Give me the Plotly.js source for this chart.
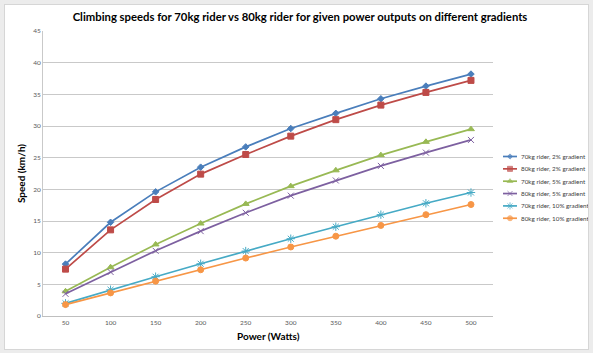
<!DOCTYPE html>
<html>
<head>
<meta charset="utf-8">
<script src="https://cdn.plot.ly/plotly-3.0.1.min.js"></script>
<style>
  html, body { margin: 0; padding: 0; background: #ececec; width: 593px; height: 353px; overflow: hidden; }
  #chart { position: absolute; left: 5px; top: 5px; width: 583px; height: 344px; background: #ffffff; outline: 1px solid #d6d6d6; }
</style>
</head>
<body>
<div id="chart"></div>
<script>
// ---- data ----
var power = [50, 100, 150, 200, 250, 300, 350, 400, 450, 500];
var rider70_2 = [8.2, 14.8, 19.6, 23.5, 26.7, 29.6, 32.0, 34.3, 36.3, 38.2];
var rider80_2 = [7.4, 13.6, 18.4, 22.4, 25.5, 28.4, 31.0, 33.3, 35.3, 37.2];
var rider70_5 = [3.9, 7.7, 11.3, 14.6, 17.7, 20.5, 23.0, 25.4, 27.5, 29.5];
var rider80_5 = [3.5, 6.95, 10.3, 13.4, 16.3, 19.0, 21.4, 23.7, 25.8, 27.8];
var rider70_10 = [2.0, 4.15, 6.2, 8.25, 10.25, 12.2, 14.1, 16.0, 17.8, 19.5];
var rider80_10 = [1.8, 3.65, 5.5, 7.3, 9.15, 10.9, 12.6, 14.3, 16.0, 17.6];
var seriesNames = ["70kg rider, 2% gradient", "80kg rider, 2% gradient", "70kg rider, 5% gradient",
                   "80kg rider, 5% gradient", "70kg rider, 10% gradient", "80kg rider, 10% gradient"];
var yTicks = [0, 5, 10, 15, 20, 25, 30, 35, 40, 45];

// ---- styles ----
var seriesData = [rider70_2, rider80_2, rider70_5, rider80_5, rider70_10, rider80_10];
var colors = ["#4a7ebb", "#be4b48", "#98b954", "#7d60a0", "#46aac5", "#f79646"];
var symbols = ["diamond", "square", "triangle-up", "x-thin-open", "asterisk-open", "circle"];
var sizes = [5, 6, 6, 6, 7, 6];

var traces = [];
for (var i = 0; i < seriesData.length; i++) {
  traces.push({
    x: power, y: seriesData[i], name: seriesNames[i], type: "scatter", mode: "lines+markers",
    line: { color: colors[i], width: 1.7 },
    marker: { symbol: symbols[i], size: sizes[i], color: colors[i], line: { color: colors[i], width: 1 } },
    showlegend: false, cliponaxis: false, hoverinfo: "x+y+name"
  });
}

// custom compact legend (page-pixel coordinates on hidden axes)
var legendTop = 156.5, legendStep = 12.35;
var annotations = [];
for (var j = 0; j < seriesNames.length; j++) {
  var ly = legendTop + legendStep * j;
  traces.push({
    x: [503, 510, 517], y: [ly, ly, ly], xaxis: "x2", yaxis: "y2", type: "scatter", mode: "lines+markers",
    line: { color: colors[j], width: 1.7 },
    marker: { symbol: symbols[j], size: [0, sizes[j] - 1, 0], color: colors[j], line: { color: colors[j], width: 1 } },
    showlegend: false, hoverinfo: "skip", cliponaxis: false
  });
  annotations.push({
    x: 518.5, y: ly, xref: "x2", yref: "y2", text: seriesNames[j], showarrow: false,
    xanchor: "left", yanchor: "middle", font: { family: "Lato, 'Liberation Sans', sans-serif", size: 6.3, color: "#404040" }
  });
}

var layout = {
  width: 583, height: 344,
  margin: { l: 38, r: 4, t: 26, b: 33 },
  paper_bgcolor: "#ffffff", plot_bgcolor: "#ffffff",
  font: { family: "Lato, 'Liberation Sans', sans-serif", color: "#595959" },
  title: {
    text: "Climbing speeds for 70kg rider vs 80kg rider for given power outputs on different gradients",
    font: { family: "Lato, 'Liberation Sans', sans-serif", size: 11.3, color: "#000000", weight: "bold" },
    x: 0.506, xanchor: "center", xref: "container", y: 0.965, yanchor: "middle", yref: "container"
  },
  xaxis: {
    domain: [0, 0.8327], range: [25, 525], tickvals: power, ticktext: power.map(String),
    showgrid: false, zeroline: false, showline: true, linecolor: "#bfbfbf", linewidth: 1.3, ticks: "",
    tickfont: { size: 6.5, color: "#595959" },
    title: { text: "Power (Watts)", font: { size: 10, color: "#000000", weight: "bold" }, standoff: 8 }
  },
  yaxis: {
    range: [0, 45], tickvals: yTicks, showgrid: true, gridcolor: "#c9c9c9", gridwidth: 1,
    zeroline: false, showline: true, linecolor: "#c9c9c9", ticks: "",
    tickfont: { size: 6.5, color: "#595959" },
    title: { text: "Speed (km/h)", font: { size: 10, color: "#000000", weight: "bold" }, standoff: 5 }
  },
  xaxis2: { domain: [0.8503, 1], range: [503, 584], visible: false, anchor: "y2", fixedrange: true },
  yaxis2: { domain: [0, 1], range: [316, 31], visible: false, anchor: "x2", fixedrange: true },
  annotations: annotations,
  showlegend: false
};

Plotly.newPlot("chart", traces, layout, { displayModeBar: false, staticPlot: true });
</script>
</body>
</html>
